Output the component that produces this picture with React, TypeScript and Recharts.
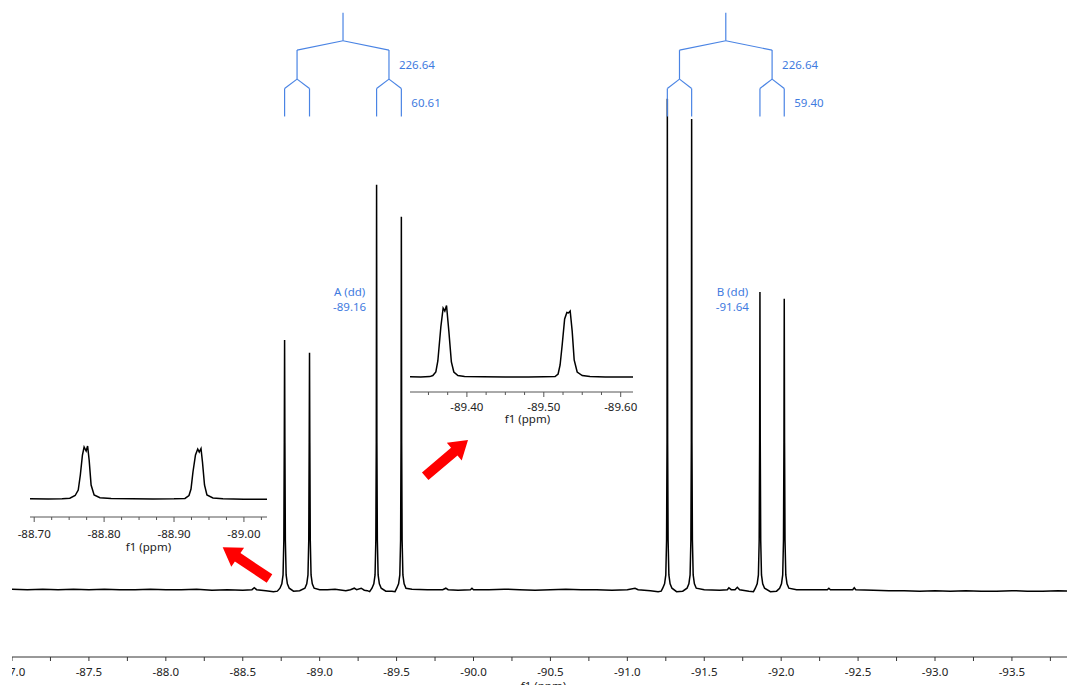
import React from "react";
import { LineChart, Line, XAxis, YAxis, ReferenceLine, ReferenceDot } from "recharts";

// main 19F spectrum trace: [ppm, intensity]
const mainTrace: [number, number][] = [
  [-87.0, 0.1], [-87.1, 0.0], [-87.2, 0.1], [-87.3, 0.0], [-87.4, 0.1], [-87.5, 0.0], [-87.6, 0.1],
  [-87.7, 0.0], [-87.8, 0.0], [-87.9, 0.1], [-88.0, 0.0], [-88.1, 0.0], [-88.2, 0.1], [-88.3, -0.1],
  [-88.4, 0.0], [-88.5, -0.1], [-88.56, 0.0], [-88.575, 0.4], [-88.59, 0.0], [-88.65, -0.2],
  [-88.7, -0.4], [-88.725, -0.3],
  [-88.742, 0.3], [-88.754, 1.2], [-88.762, 3], [-88.767, 10], [-88.77, 30], [-88.772, 50.8],
  [-88.774, 30], [-88.777, 10], [-88.782, 3], [-88.79, 1.2], [-88.802, 0.3],
  [-88.83, -0.3], [-88.87, -0.2],
  [-88.904, 0.3], [-88.916, 1.2], [-88.924, 3], [-88.929, 10], [-88.932, 30], [-88.934, 48.2],
  [-88.936, 30], [-88.939, 10], [-88.944, 3], [-88.952, 1.2], [-88.964, 0.3],
  [-89.0, 0.0], [-89.05, 0.0], [-89.1, 0.1], [-89.17, -0.2], [-89.2, 0.0], [-89.225, 0.3],
  [-89.24, 0.0], [-89.27, 0.3], [-89.29, -0.1], [-89.31, -0.2], [-89.325, -0.4],
  [-89.34, 0.3], [-89.352, 1.2], [-89.36, 3], [-89.365, 10], [-89.368, 30], [-89.37, 82.4],
  [-89.372, 30], [-89.375, 10], [-89.38, 3], [-89.388, 1.2], [-89.4, 0.3],
  [-89.43, -0.3], [-89.47, -0.3], [-89.49, -0.4],
  [-89.501, 0.3], [-89.513, 1.2], [-89.521, 3], [-89.526, 10], [-89.529, 30], [-89.531, 75.9],
  [-89.533, 30], [-89.536, 10], [-89.541, 3], [-89.549, 1.2], [-89.561, 0.3],
  [-89.6, 0.1], [-89.7, 0.0], [-89.8, 0.0], [-89.82, 0.3], [-89.835, 0.0], [-89.9, -0.1],
  [-89.98, 0.0], [-89.99, 0.3], [-90.0, 0.0], [-90.1, 0.0], [-90.2, 0.1], [-90.3, 0.0],
  [-90.4, -0.1], [-90.5, 0.0], [-90.6, 0.1], [-90.7, 0.0], [-90.8, 0.0], [-90.9, -0.1],
  [-91.0, 0.0], [-91.05, 0.3], [-91.07, 0.0], [-91.15, -0.2], [-91.2, -0.4], [-91.22, -0.3],
  [-91.23, 0.3], [-91.242, 1.2], [-91.25, 3], [-91.255, 10], [-91.258, 30], [-91.26, 99.9],
  [-91.262, 30], [-91.265, 10], [-91.27, 3], [-91.278, 1.2], [-91.29, 0.3],
  [-91.32, -0.4], [-91.36, -0.3],
  [-91.388, 0.3], [-91.4, 1.2], [-91.408, 3], [-91.413, 10], [-91.416, 30], [-91.418, 95.8],
  [-91.42, 30], [-91.423, 10], [-91.428, 3], [-91.436, 1.2], [-91.448, 0.3],
  [-91.5, 0.0], [-91.6, -0.1], [-91.65, 0.0], [-91.66, 0.4], [-91.675, 0.0], [-91.7, 0.0],
  [-91.715, 0.5], [-91.73, 0.0], [-91.79, -0.3], [-91.82, -0.4],
  [-91.832, 0.3], [-91.844, 1.2], [-91.852, 3], [-91.857, 10], [-91.86, 30], [-91.862, 60.6],
  [-91.864, 30], [-91.867, 10], [-91.872, 3], [-91.88, 1.2], [-91.892, 0.3],
  [-91.93, -0.4], [-91.97, -0.3],
  [-91.99, 0.3], [-92.002, 1.2], [-92.01, 3], [-92.015, 10], [-92.018, 30], [-92.02, 59.2],
  [-92.022, 30], [-92.025, 10], [-92.03, 3], [-92.038, 1.2], [-92.05, 0.3],
  [-92.1, 0.0], [-92.2, 0.0], [-92.3, 0.0], [-92.31, 0.3], [-92.32, 0.0], [-92.4, 0.0],
  [-92.465, 0.0], [-92.475, 0.4], [-92.485, 0.0], [-92.6, -0.1], [-92.7, -0.2], [-92.8, -0.2],
  [-92.9, -0.3], [-93.0, -0.2], [-93.1, -0.3], [-93.2, -0.2], [-93.3, -0.3], [-93.4, -0.3],
  [-93.5, -0.2], [-93.6, -0.3], [-93.7, -0.3], [-93.8, -0.2], [-93.91, -0.3],
];

// zoomed insets
const inset1Trace: [number, number][] = [
  [-88.694, 0.3], [-88.72, 0.0], [-88.74, 0.2], [-88.751, 0.8], [-88.7586, 3.5], [-88.763, 9],
  [-88.766, 24], [-88.769, 44], [-88.7714, 52], [-88.7743, 48], [-88.7764, 53], [-88.7786, 39],
  [-88.7814, 14], [-88.7857, 4], [-88.794, 1.2], [-88.81, 0.6], [-88.84, 0.2], [-88.87, 0.0],
  [-88.9, 0.2], [-88.9157, 0.6], [-88.9214, 3.5], [-88.9243, 10], [-88.9271, 27], [-88.9307, 44],
  [-88.9339, 50], [-88.9361, 47], [-88.9386, 50.5], [-88.9407, 37], [-88.9436, 14], [-88.9471, 4],
  [-88.9557, 1], [-88.97, 0.3], [-89.0, -0.2], [-89.033, -0.3],
];

const inset2Trace: [number, number][] = [
  [-89.326, 0.3], [-89.34, 0.1], [-89.3518, 0.4], [-89.3557, 1.5], [-89.3596, 5], [-89.3622, 16],
  [-89.3661, 50], [-89.3691, 69], [-89.3713, 66], [-89.3735, 71.5], [-89.3765, 46], [-89.3798, 15],
  [-89.383, 5], [-89.3883, 1.5], [-89.397, 0.6], [-89.42, 0.3], [-89.45, 0.0], [-89.48, 0.0],
  [-89.5, 0.2], [-89.5147, 0.5], [-89.5186, 3], [-89.5212, 12], [-89.5239, 32], [-89.5271, 58],
  [-89.53, 64.5], [-89.5321, 64], [-89.5343, 66], [-89.5369, 46], [-89.5395, 17], [-89.5434, 5],
  [-89.55, 1.5], [-89.56, 0.5], [-89.58, 0.0], [-89.616, 0.0],
];

const mainTicks = [
  -87, -87.25, -87.5, -87.75, -88, -88.25, -88.5, -88.75, -89, -89.25, -89.5, -89.75, -90, -90.25,
  -90.5, -90.75, -91, -91.25, -91.5, -91.75, -92, -92.25, -92.5, -92.75, -93, -93.25, -93.5, -93.75,
];
const inset1Ticks = [
  -88.7, -88.725, -88.75, -88.775, -88.8, -88.825, -88.85, -88.875, -88.9, -88.925, -88.95,
  -88.975, -89.0, -89.025,
];
const inset2Ticks = [
  -89.35, -89.375, -89.4, -89.425, -89.45, -89.475, -89.5, -89.525, -89.55, -89.575, -89.6,
];

// multiplets: peak positions (ppm), coupling labels (Hz), name + shift
const multipletA = [-88.772, -88.934, -89.37, -89.531];
const multipletB = [-91.26, -91.418, -91.862, -92.02];
const couplingsA = ["226.64", "60.61"];
const couplingsB = ["226.64", "59.40"];
const labelsA = ["A (dd)", "-89.16"];
const labelsB = ["B (dd)", "-91.64"];

const BLUE = "#4a84e4";
const TEXT_BLUE = "#3f7be0";
const AXIS = "#333";
const FS = 11.5;

const toRows = (t: [number, number][]) => t.map(([ppm, v]) => ({ ppm, v }));

// splitting-tree levels in intensity units
const LV = { stemTop: 117.4, stemBot: 111.7, l1Top: 109.8, l1Bot: 103.9, legTop: 102.0, legBot: 96.3 };

type Seg = { seg: [{ x: number; y: number }, { x: number; y: number }]; label?: string };

function treeSegments(legs: number[], j: string[]): Seg[] {
  const [a, b, c, d] = legs;
  const m1 = (a + b) / 2;
  const m2 = (c + d) / 2;
  const s = (m1 + m2) / 2;
  const p = (x: number, y: number) => ({ x, y });
  const out: Seg[] = [
    { seg: [p(s, LV.stemTop), p(s, LV.stemBot)] },
    { seg: [p(s, LV.stemBot), p(m1, LV.l1Top)] },
    { seg: [p(s, LV.stemBot), p(m2, LV.l1Top)] },
    { seg: [p(m1, LV.l1Top), p(m1, LV.l1Bot)] },
    { seg: [p(m2, LV.l1Top), p(m2, LV.l1Bot)], label: j[0] },
    { seg: [p(m1, LV.l1Bot), p(a, LV.legTop)] },
    { seg: [p(m1, LV.l1Bot), p(b, LV.legTop)] },
    { seg: [p(m2, LV.l1Bot), p(c, LV.legTop)] },
    { seg: [p(m2, LV.l1Bot), p(d, LV.legTop)] },
  ];
  legs.forEach((x, i) => {
    out.push({ seg: [p(x, LV.legTop), p(x, LV.legBot)], label: i === 3 ? j[1] : undefined });
  });
  return out;
}

const stemOf = (legs: number[]) => (legs[0] + legs[1] + legs[2] + legs[3]) / 4;

function MainTick(props: any) {
  const { x, y, payload } = props;
  const v = payload.value as number;
  const major = Math.abs(v * 2 - Math.round(v * 2)) < 1e-6;
  return (
    <g>
      <line x1={x} x2={x} y1={y} y2={y + 4} stroke={AXIS} />
      {major && (
        <text x={x} y={y + 19} textAnchor="middle" fontSize={FS} fill="#222">
          {v.toFixed(1)}
        </text>
      )}
    </g>
  );
}

function makeInsetTick(textDy: number) {
  return function InsetTick(props: any) {
    const { x, y, payload } = props;
    const v = payload.value as number;
    const major = Math.abs(v * 10 - Math.round(v * 10)) < 1e-6;
    return (
      <g>
        <line x1={x} x2={x} y1={y} y2={y + (major ? 5 : 3)} stroke="#555" />
        {major && (
          <text x={x} y={y + textDy} textAnchor="middle" fontSize={FS} fill="#222">
            {v.toFixed(2)}
          </text>
        )}
      </g>
    );
  };
}

function arrowPoints(tail: [number, number], tip: [number, number], w: number, hw: number, hl: number) {
  const dx = tip[0] - tail[0];
  const dy = tip[1] - tail[1];
  const L = Math.hypot(dx, dy);
  const ux = dx / L, uy = dy / L;
  const nx = -uy, ny = ux;
  const bx = tip[0] - ux * hl, by = tip[1] - uy * hl;
  const pts = [
    [tail[0] + nx * w / 2, tail[1] + ny * w / 2],
    [bx + nx * w / 2, by + ny * w / 2],
    [bx + nx * hw / 2, by + ny * hw / 2],
    [tip[0], tip[1]],
    [bx - nx * hw / 2, by - ny * hw / 2],
    [bx - nx * w / 2, by - ny * w / 2],
    [tail[0] - nx * w / 2, tail[1] - ny * w / 2],
  ];
  return pts.map((q) => q.join(",")).join(" ");
}

const PAD = 26; // room for edge tick labels of the insets

function Inset(props: {
  data: [number, number][];
  domain: [number, number];
  yDomain: [number, number];
  ticks: number[];
  left: number;
  top: number;
  width: number;
  plotH: number;
  axisH: number;
  textDy: number;
  labelOffset: number;
  labelDx: number;
}) {
  const Tick = makeInsetTick(props.textDy);
  return (
    <div style={{ position: "absolute", left: props.left - PAD, top: props.top }}>
      <LineChart
        width={props.width + 2 * PAD}
        height={props.plotH + props.axisH}
        data={toRows(props.data)}
        margin={{ top: 0, right: PAD, left: PAD, bottom: 0 }}
      >
        <XAxis
          dataKey="ppm"
          type="number"
          domain={props.domain}
          reversed
          allowDataOverflow
          ticks={props.ticks}
          interval={0}
          tickSize={0}
          tickMargin={0}
          tickLine={false}
          tick={<Tick />}
          height={props.axisH}
          axisLine={{ stroke: "#555" }}
          label={{
            value: "f1 (ppm)",
            position: "insideBottom",
            offset: props.labelOffset,
            dx: props.labelDx,
            fill: "#222",
            fontSize: FS,
          }}
        />
        <YAxis hide type="number" domain={props.yDomain} allowDataOverflow />
        <Line
          dataKey="v"
          type="linear"
          stroke="#000"
          strokeWidth={1.5}
          dot={false}
          isAnimationActive={false}
        />
      </LineChart>
    </div>
  );
}

export default function App() {
  const segs = [...treeSegments(multipletA, couplingsA), ...treeSegments(multipletB, couplingsB)];
  const stemA = stemOf(multipletA);
  const stemB = stemOf(multipletB);
  const nameLabels = [
    { x: stemA - 0.043, y: 60.6, t: labelsA[0] },
    { x: stemA - 0.043, y: 57.6, t: labelsA[1] },
    { x: stemB - 0.043, y: 60.6, t: labelsB[0] },
    { x: stemB - 0.043, y: 57.6, t: labelsB[1] },
  ];

  return (
    <div
      style={{
        position: "relative",
        width: 1075,
        height: 693,
        margin: -8,
        background: "#fff",
        fontFamily: "'Noto Sans', sans-serif",
        overflow: "hidden",
      }}
    >
      <div style={{ position: "absolute", left: 12, top: 0 }}>
        <LineChart
          width={1063}
          height={693}
          data={toRows(mainTrace)}
          margin={{ top: 0, right: 0, left: 0, bottom: 0 }}
        >
          <XAxis
            dataKey="ppm"
            type="number"
            domain={[-93.91, -87.0]}
            reversed
            allowDataOverflow
            ticks={mainTicks}
            interval={0}
            tickSize={0}
            tickMargin={0}
            tickLine={false}
            tick={<MainTick />}
            height={36}
            axisLine={{ stroke: AXIS }}
            label={{ value: "f1 (ppm)", position: "insideBottom", offset: 3, fill: "#222", fontSize: FS }}
          />
          <YAxis hide type="number" domain={[-13.7, 120]} allowDataOverflow />
          <Line
            dataKey="v"
            type="linear"
            stroke="#000"
            strokeWidth={1.5}
            dot={false}
            isAnimationActive={false}
          />
          {segs.map((s, i) => (
            <ReferenceLine
              key={"seg" + i}
              segment={s.seg}
              stroke={BLUE}
              strokeWidth={1.2}
              ifOverflow="visible"
              label={
                s.label
                  ? { value: s.label, position: "right", offset: 10, fill: TEXT_BLUE, fontSize: FS }
                  : undefined
              }
            />
          ))}
          {nameLabels.map((l, i) => (
            <ReferenceDot
              key={"lbl" + i}
              x={l.x}
              y={l.y}
              r={0}
              fill="none"
              stroke="none"
              label={{ value: l.t, position: "center", fill: TEXT_BLUE, fontSize: FS }}
            />
          ))}
        </LineChart>
      </div>

      <Inset
        data={inset1Trace}
        domain={[-89.033, -88.694]}
        yDomain={[-18, 62]}
        ticks={inset1Ticks}
        left={30}
        top={437}
        width={237}
        plotH={80}
        axisH={40}
        textDy={20.5}
        labelOffset={6.5}
        labelDx={0}
      />
      <Inset
        data={inset2Trace}
        domain={[-89.616, -89.326]}
        yDomain={[-15, 75]}
        ticks={inset2Ticks}
        left={410}
        top={302}
        width={223}
        plotH={90}
        axisH={36}
        textDy={19}
        labelOffset={5.5}
        labelDx={6}
      />

      <svg
        width={1075}
        height={693}
        style={{ position: "absolute", left: 0, top: 0, pointerEvents: "none" }}
      >
        <polygon points={arrowPoints([269.5, 578.5], [222.7, 547.3], 10, 23, 18)} fill="#ff0000" />
        <polygon points={arrowPoints([425.2, 476.3], [468, 440], 10, 23, 18)} fill="#ff0000" />
      </svg>
    </div>
  );
}
